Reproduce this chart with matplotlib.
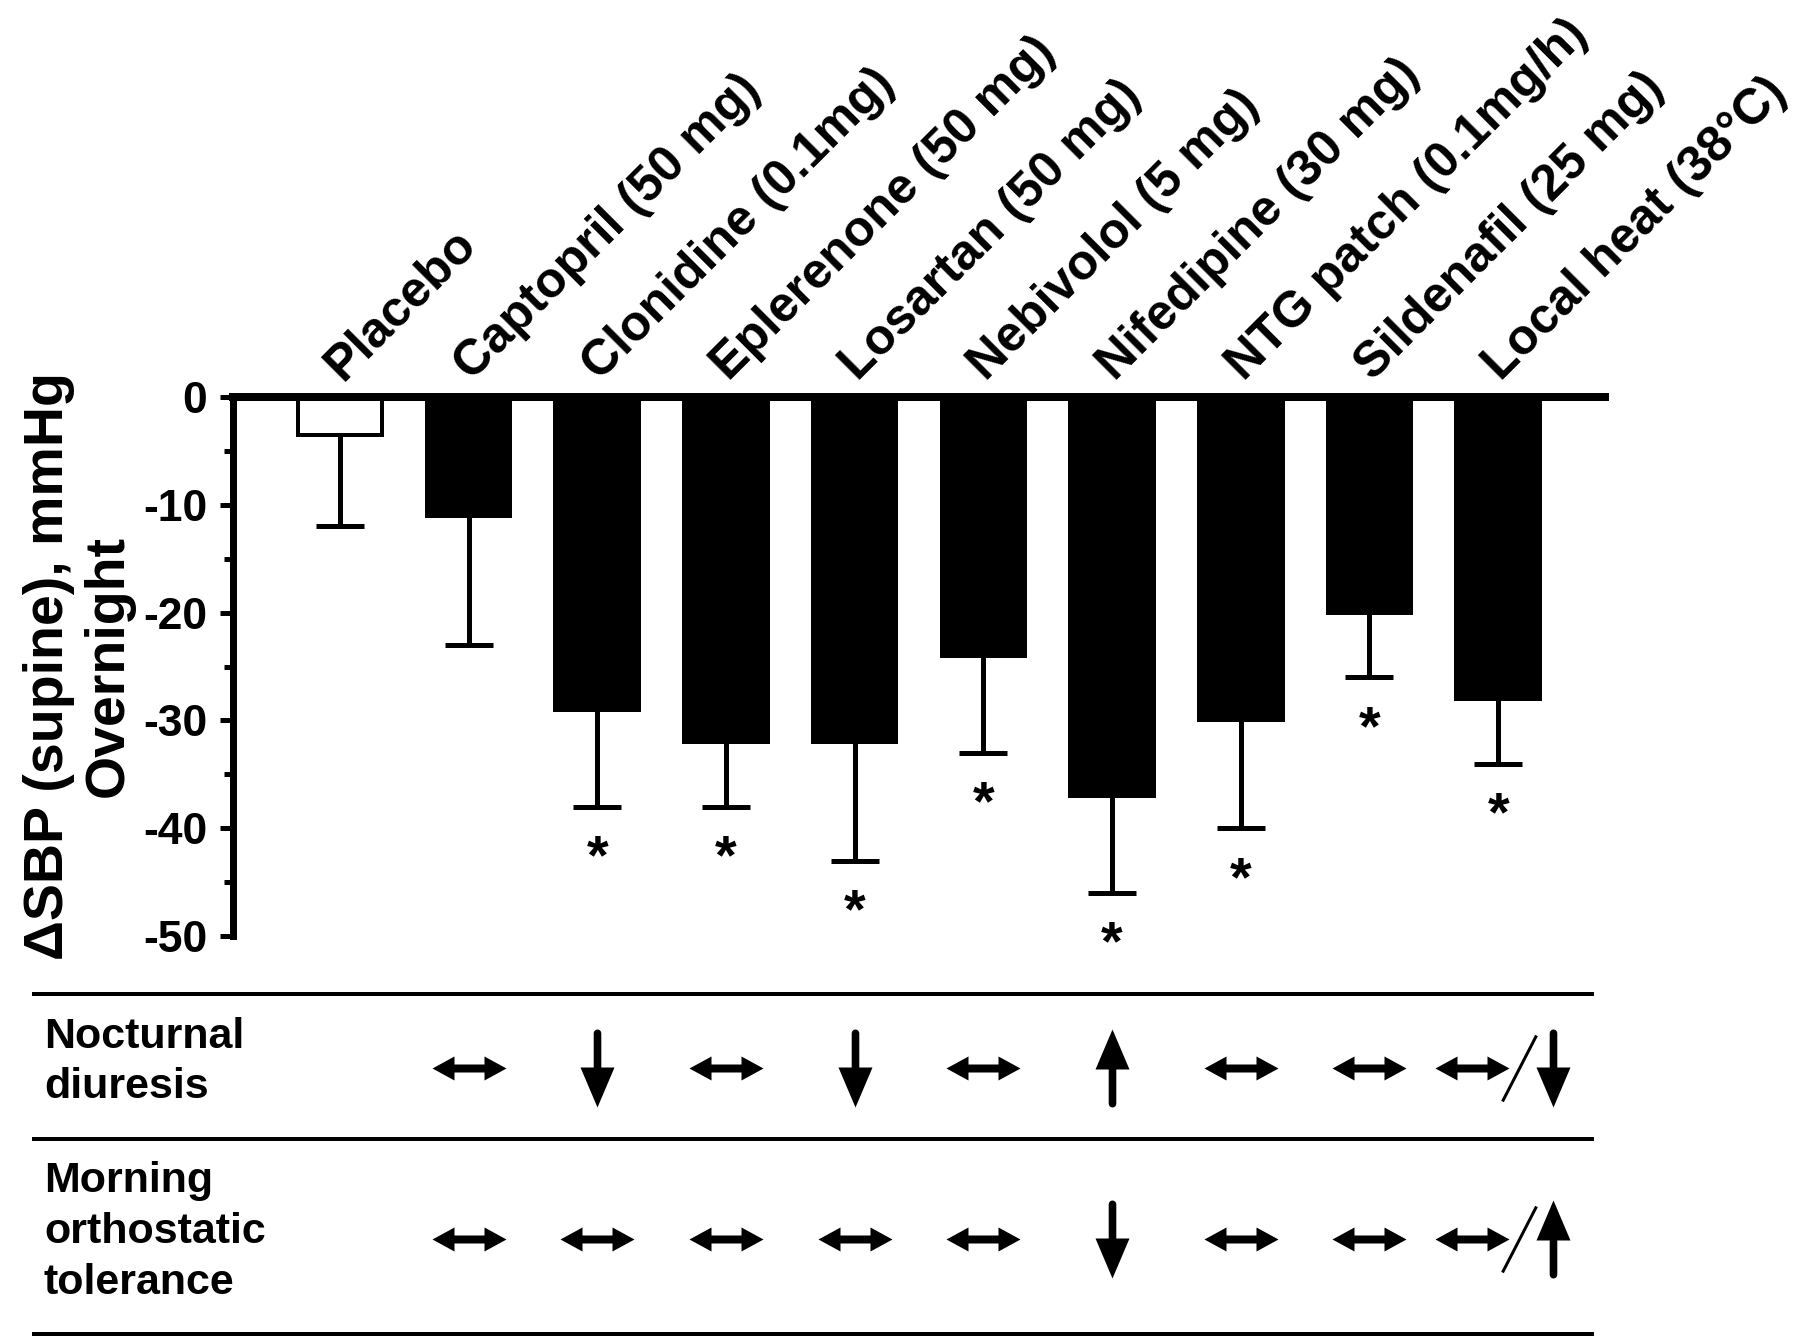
#!/usr/bin/env python3
"""Overnight supine SBP change by treatment, with effect table below."""
import numpy as np
import matplotlib
matplotlib.use("Agg")
import matplotlib.pyplot as plt
from matplotlib.path import Path
from matplotlib.lines import Line2D
from matplotlib.transforms import ScaledTranslation

categories = [
    "Placebo", "Captopril (50 mg)", "Clonidine (0.1mg)", "Eplerenone (50 mg)",
    "Losartan (50 mg)", "Nebivolol (5 mg)", "Nifedipine (30 mg)",
    "NTG patch (0.1mg/h)", "Sildenafil (25 mg)", "Local heat (38°C)",
]
delta_sbp = [-3.5, -11, -29, -32, -32, -24, -37, -30, -20, -28]
err_low = [8.5, 12, 9, 6, 11, 9, 9, 10, 6, 6]
significant = [False, False, True, True, True, True, True, True, True, True]
yticks = [0, -10, -20, -30, -40, -50]

row_labels = ["Nocturnal\ndiuresis", "Morning\northostatic\ntolerance"]
nocturnal_diuresis = ["", "↔", "↓", "↔", "↓", "↔", "↑", "↔", "↔", "↔/↓"]
orthostatic_tol = ["", "↔", "↔", "↔", "↔", "↔", "↓", "↔", "↔", "↔/↑"]

plt.rcParams["font.family"] = ["Liberation Sans", "DejaVu Sans"]
plt.rcParams["font.weight"] = "bold"

W, H = 1800, 1340
PT = 0.72  # points per pixel at dpi 100

fig = plt.figure(figsize=(18, 13.4), dpi=100)
ax = fig.add_axes([233 / W, 1 - 936 / H, (1605 - 233) / W, (936 - 397) / H])

x = np.arange(len(categories))
colors = ["white"] + ["black"] * (len(categories) - 1)
ax.bar(x, delta_sbp, width=0.65, color=colors, edgecolor="black",
       linewidth=4 * PT, zorder=2)
means = np.array(delta_sbp)
lows = means - np.array(err_low)
ax.vlines(x, means, lows, color="black", linewidth=5 * PT, zorder=3)
ax.plot(x, lows, linestyle="none", marker="_", ms=48 * PT, mew=5 * PT,
        color="black", zorder=3)
for xi, lo, sig in zip(x, lows, significant):
    if sig:
        ax.annotate("*", (xi, lo), xytext=(0, -48), textcoords="offset points",
                    ha="center", va="baseline", fontsize=40, fontweight="bold")

ax.set_xlim(-0.83, len(categories) - 1 + 0.83)
ax.set_ylim(-50, 0)
ax.set_yticks(yticks)
ax.set_yticks(np.arange(-45, 0, 10), minor=True)
ax.set_yticklabels([str(t) for t in yticks], fontsize=32, fontweight="bold")
ax.tick_params(axis="y", which="major", length=13 * PT, width=5 * PT, pad=9)
ax.tick_params(axis="y", which="minor", length=9 * PT, width=5 * PT)
ax.set_xticks([])
for s in ("right", "bottom"):
    ax.spines[s].set_visible(False)
ax.spines["left"].set_linewidth(7 * PT)
ax.spines["top"].set_linewidth(8 * PT)
ax.spines["top"].set_zorder(4)

lab_off = ScaledTranslation(0.03, 0.15, fig.dpi_scale_trans)
for xi, name in zip(x, categories):
    ax.text(xi, 0, name, transform=ax.transData + lab_off, rotation=45,
            rotation_mode="anchor", ha="left", va="baseline", fontsize=36,
            fontweight="bold", clip_on=False)

fig.text(0.044, 1 - 666 / H, "ΔSBP (supine), mmHg\nOvernight", rotation=90,
         ha="center", va="center", multialignment="center", fontsize=40,
         fontweight="bold", linespacing=1.2)

# effect table below the bars
for yp in (994, 1139, 1334):
    fig.add_artist(Line2D([34 / W, 1592 / W], [1 - yp / H] * 2,
                          transform=fig.transFigure, color="black",
                          linewidth=4 * PT))
fig.text(44 / W, 1 - 1062 / H, row_labels[0], ha="left", va="center",
         fontsize=31, fontweight="bold", linespacing=1.35)
fig.text(44 / W, 1 - 1232 / H, row_labels[1], ha="left", va="center",
         fontsize=31, fontweight="bold", linespacing=1.35)

tab = fig.add_axes([233 / W, 6 / H, (1605 - 233) / W, 340 / H])
tab.set_xlim(ax.get_xlim())
tab.set_ylim(1334, 994)
tab.axis("off")

double = Path([(-37, 0), (-15, 12), (-15, 4), (15, 4), (15, 12),
               (37, 0), (15, -12), (15, -4), (-15, -4), (-15, -12),
               (-37, 0)])
arc = [(3.8 * np.cos(a), 35.2 + 3.8 * np.sin(a)) for a in np.linspace(0, np.pi, 9)]
down_v = [(0, -39), (17, 1), (3.8, 1)] + arc + [(-3.8, 1), (-17, 1), (0, -39)]
down = Path(down_v)
up = Path([(px, -py) for px, py in down_v])
markers = {"↔": (double, 74), "↓": (down, 78), "↑": (up, 78)}
slash = Path([(-17, -33), (17, 33)], [Path.MOVETO, Path.LINETO])

rows = [(nocturnal_diuresis, 1068), (orthostatic_tol, 1239)]
for codes, yrow in rows:
    for xi, code in zip(x, codes):
        if not code:
            continue
        if "/" in code:
            first, second = code.split("/")
            items = [(first, xi - 0.20), (second, xi + 0.427)]
            tab.plot([xi + 0.163], [yrow], linestyle="none", marker=slash,
                     ms=66 * PT, mew=3 * PT, mfc="none", mec="black")
        else:
            items = [(code, xi)]
        for sym, xp in items:
            path, size = markers[sym]
            tab.plot([xp], [yrow], linestyle="none", marker=path,
                     ms=size * PT, mew=0, color="black")

fig.savefig("out.png", dpi=100)
